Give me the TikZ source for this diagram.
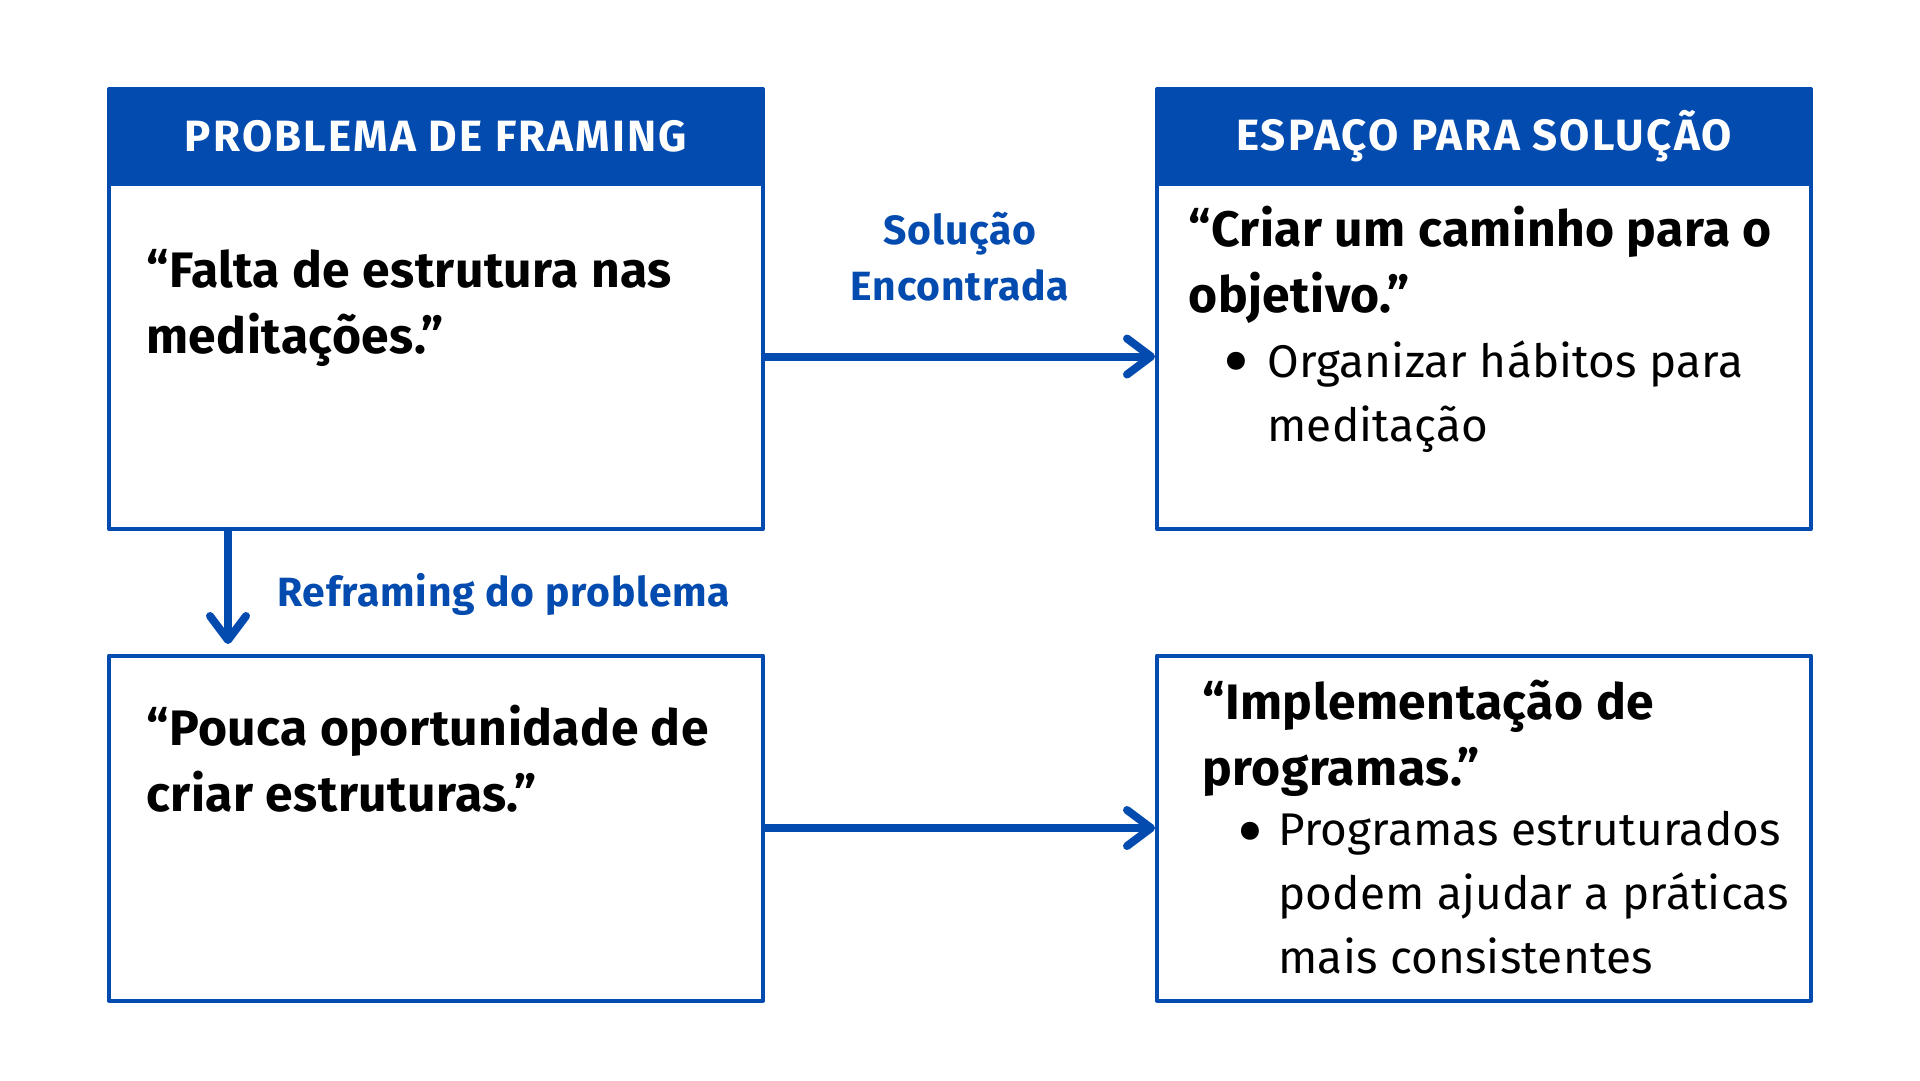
\documentclass[tikz,border=0pt]{standalone}
\usepackage{fontspec}
\setmainfont{Fira Sans}
\usepackage{tikz}
\usetikzlibrary{arrows.meta}
\definecolor{frameblue}{RGB}{3,75,175}

\begin{document}
\begin{tikzpicture}[x=0.5bp,y=-0.5bp,>={Straight Barb[round,length=12bp,width=18bp]},line join=round,
  headbox/.style={draw=frameblue,fill=frameblue,line width=2bp,minimum width=327bp,minimum height=47.5bp,inner sep=0pt,text=white,font=\fontsize{22}{26}\selectfont\bfseries\addfontfeature{LetterSpace=5}},
  bodybox/.style={draw=frameblue,line width=2bp,minimum width=327bp,minimum height=172.5bp,inner sep=0pt},
  quotetext/.style={anchor=base west,align=left,inner sep=0pt,font=\fontsize{25}{33}\selectfont\bfseries\addfontfeature{LetterSpace=1}},
  itemtext/.style={anchor=base west,align=left,inner sep=0pt,font=\fontsize{23}{32}\selectfont\addfontfeature{LetterSpace=0.5}},
  dottext/.style={anchor=base,inner sep=0pt,font=\fontsize{40}{40}\selectfont},
  tagtext/.style={text=frameblue,align=center,inner sep=0pt,font=\fontsize{20.5}{28}\selectfont\bfseries\addfontfeature{LetterSpace=2}},
  link/.style={->,draw=frameblue,line width=4bp}]
%%
  \path[use as bounding box,fill=white] (0,0) rectangle (1920,1080);
  \node (probHead) at (436,136.5) [headbox] {PROBLEMA DE FRAMING};
  \node (probBody) at (436,356.5) [bodybox] {};
  \node (solHead) at (1484,136.5) [headbox] {ESPAÇO PARA SOLUÇÃO};
  \node (solBody) at (1484,356.5) [bodybox] {};
  \node (reframeBody) at (436,828) [bodybox] {};
  \node (implBody) at (1484,828) [bodybox] {};
  % multi-line texts sit on the baseline of their last line
  \node (probText) at (146,353) [quotetext] {“Falta de estrutura nas\\meditações.”};
  \node (solText) at (1188,312) [quotetext] {“Criar um caminho para o\\objetivo.”};
  \node (solDot) at (1236,388) [dottext] {•};
  \node (solItem) at (1267,441) [itemtext] {Organizar hábitos para\\meditação};
  \node (reframeText) at (146,811) [quotetext] {“Pouca oportunidade de\\criar estruturas.”};
  \node (implText) at (1202,785) [quotetext] {“Implementação de\\programas.”};
  \node (implDot) at (1250,858) [dottext] {•};
  \node (implItem) at (1278,973) [itemtext] {Programas estruturados\\podem ajudar a práticas\\mais consistentes};
  \node (foundTag) at (960,257) [tagtext] {Solução\\Encontrada};
  \node (reframeTag) at (277,594) [tagtext,anchor=west] {Reframing do problema};
  \coordinate (reframeEnd) at (228,644);
  \draw [link] (probBody) -- (solBody);
  \draw [link] (reframeBody) -- (implBody);
  \draw [link] (probBody.south -| reframeEnd) -- (reframeEnd);
%
\end{tikzpicture}
\end{document}
